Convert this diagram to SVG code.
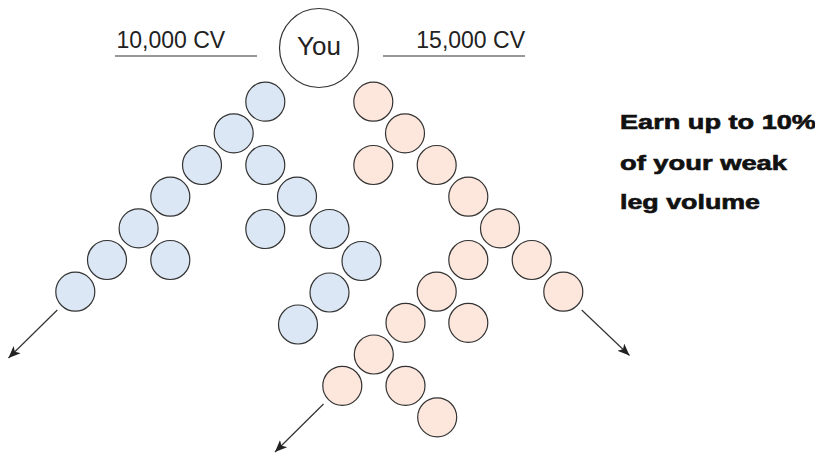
<svg xmlns="http://www.w3.org/2000/svg" width="815" height="454" viewBox="0 0 815 454">
  <style>
    .b { fill: #dce7f5; stroke: #333; stroke-width: 1.2; }
    .p { fill: #fde6dc; stroke: #333; stroke-width: 1.2; }
    .you { fill: #fff; stroke: #333; stroke-width: 1.2; }
    .cv { font-family: "Liberation Sans", Arial, sans-serif; font-size: 23px; fill: #222; }
    .yt { font-family: "Liberation Sans", Arial, sans-serif; font-size: 26px; fill: #222; text-anchor: middle; }
    .note { font-family: "Liberation Sans", Arial, sans-serif; font-size: 19.5px; font-weight: bold; fill: #111; stroke: #111; stroke-width: 0.6; }
    .rule { stroke: #333; stroke-width: 1.2; fill: none; }
    .arr { stroke: #333; stroke-width: 1.2; fill: none; marker-end: url(#ah); }
  </style>
  <defs>
    <marker id="ah" markerUnits="userSpaceOnUse" markerWidth="14" markerHeight="12" refX="12" refY="5" orient="auto">
      <path d="M0,0 L12,5 L0,10 L3,5 Z" fill="#222"/>
    </marker>
  </defs>
  <rect width="815" height="454" fill="#fff"/>

  <g id="labels">
    <text class="cv" x="116.5" y="48">10,000 CV</text>
    <line class="rule" x1="115" y1="56" x2="257" y2="56"/>
    <text class="cv" x="525" y="48" text-anchor="end">15,000 CV</text>
    <line class="rule" x1="383" y1="56" x2="525" y2="56"/>
  </g>

  <g id="you">
    <circle class="you" cx="319" cy="48" r="39.5"/>
    <text class="yt" x="319" y="55">You</text>
  </g>

  <g id="note">
    <text class="note" x="620" y="129" textLength="196" lengthAdjust="spacingAndGlyphs">Earn up to 10%</text>
    <text class="note" x="620" y="170" textLength="167" lengthAdjust="spacingAndGlyphs">of your weak</text>
    <text class="note" x="620" y="209" textLength="140" lengthAdjust="spacingAndGlyphs">leg volume</text>
  </g>

  <g id="connectors">
    <line class="arr" x1="57.3" y1="310" x2="8.5" y2="358"/>
    <line class="arr" x1="323.5" y1="404" x2="275" y2="452"/>
    <line class="arr" x1="581.7" y1="310" x2="629.5" y2="355.5"/>
  </g>

  <g id="blue-leg">
    <g id="b1"><circle class="b" cx="265.3" cy="101.7" r="19.5"/></g>
    <g id="b2"><circle class="b" cx="233.7" cy="133.3" r="19.5"/></g>
    <g id="b3"><circle class="b" cx="202.0" cy="165.0" r="19.5"/></g>
    <g id="b4"><circle class="b" cx="170.3" cy="196.7" r="19.5"/></g>
    <g id="b5"><circle class="b" cx="138.6" cy="228.4" r="19.5"/></g>
    <g id="b6"><circle class="b" cx="107.0" cy="260.0" r="19.5"/></g>
    <g id="b7"><circle class="b" cx="75.3" cy="291.7" r="19.5"/></g>
    <g id="b8"><circle class="b" cx="170.3" cy="260.0" r="19.5"/></g>
    <g id="b9"><circle class="b" cx="265.3" cy="165.0" r="19.5"/></g>
    <g id="b10"><circle class="b" cx="297.0" cy="196.7" r="19.5"/></g>
    <g id="b11"><circle class="b" cx="265.3" cy="229.0" r="19.5"/></g>
    <g id="b12"><circle class="b" cx="329.5" cy="229.0" r="19.5"/></g>
    <g id="b13"><circle class="b" cx="361.5" cy="261.0" r="19.5"/></g>
    <g id="b14"><circle class="b" cx="329.5" cy="292.5" r="19.5"/></g>
    <g id="b15"><circle class="b" cx="298.0" cy="324.5" r="19.5"/></g>
  </g>

  <g id="pink-leg">
    <g id="p1"><circle class="p" cx="373.3" cy="101.7" r="19.5"/></g>
    <g id="p2"><circle class="p" cx="405.0" cy="133.3" r="19.5"/></g>
    <g id="p3"><circle class="p" cx="373.3" cy="165.0" r="19.5"/></g>
    <g id="p4"><circle class="p" cx="436.7" cy="165.0" r="19.5"/></g>
    <g id="p5"><circle class="p" cx="468.3" cy="196.7" r="19.5"/></g>
    <g id="p6"><circle class="p" cx="500.0" cy="228.4" r="19.5"/></g>
    <g id="p7"><circle class="p" cx="531.7" cy="260.0" r="19.5"/></g>
    <g id="p8"><circle class="p" cx="563.3" cy="291.7" r="19.5"/></g>
    <g id="p9"><circle class="p" cx="468.3" cy="260.0" r="19.5"/></g>
    <g id="p10"><circle class="p" cx="436.7" cy="291.7" r="19.5"/></g>
    <g id="p11"><circle class="p" cx="468.3" cy="322.8" r="19.5"/></g>
    <g id="p12"><circle class="p" cx="405.5" cy="322.8" r="19.5"/></g>
    <g id="p13"><circle class="p" cx="373.8" cy="354.5" r="19.5"/></g>
    <g id="p14"><circle class="p" cx="342.3" cy="385.8" r="19.5"/></g>
    <g id="p15"><circle class="p" cx="405.5" cy="385.8" r="19.5"/></g>
    <g id="p16"><circle class="p" cx="437.2" cy="417.3" r="19.5"/></g>
  </g>
</svg>
